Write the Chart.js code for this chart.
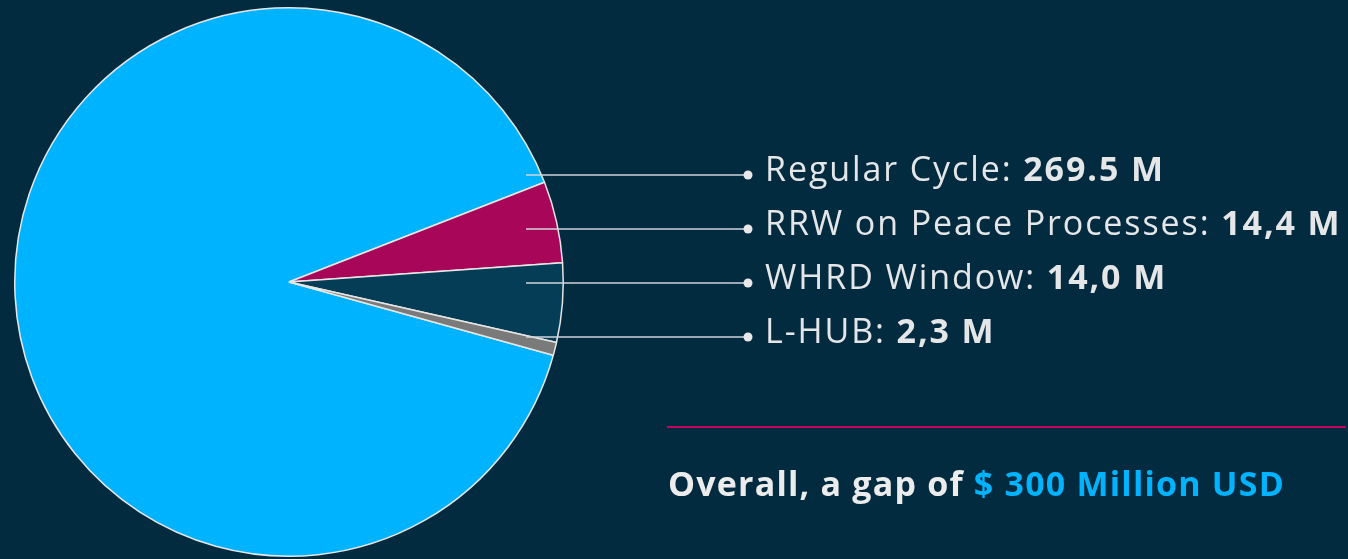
<!DOCTYPE html>
<html lang="en">
<head>
  <meta charset="UTF-8">
  <title>Funding gap</title>
  <script src="https://cdn.jsdelivr.net/npm/chart.js"></script>
  <style>
    html, body { margin: 0; padding: 0; background: #032b40; }
    #wrap { width: 1348px; height: 559px; position: relative; }
  </style>
</head>
<body>
  <div id="wrap"><canvas id="pie"></canvas></div>
  <script>
    // data
    const categories = ['Regular Cycle', 'RRW on Peace Processes', 'WHRD Window', 'L-HUB'];
    const amounts = [269.5, 14.4, 14.0, 2.3];
    const amountLabels = ['269.5 M', '14,4 M', '14,0 M', '2,3 M'];
    const sliceColors = ['#00b3ff', '#a80759', '#053d57', '#7a7a7a'];
    const summaryLead = 'Overall, a gap of ';
    const summaryValue = '$ 300 Million USD';

    const FONT = '"Open Sans", sans-serif';

    // leader lines, labels, divider and summary line on the right
    const sideText = {
      id: 'sideText',
      afterDraw(chart) {
        const ctx = chart.ctx;
        ctx.save();
        categories.forEach((name, i) => {
          const y = 175 + i * 54;
          ctx.strokeStyle = '#d0d4d8';
          ctx.lineWidth = 1.5;
          ctx.beginPath();
          ctx.moveTo(526, y);
          ctx.lineTo(748, y);
          ctx.stroke();
          ctx.fillStyle = '#e8e8e8';
          ctx.beginPath();
          ctx.arc(748, y, 4.5, 0, Math.PI * 2);
          ctx.fill();

          ctx.textBaseline = 'alphabetic';
          ctx.letterSpacing = '1.9px';
          ctx.fillStyle = '#e4e6e8';
          ctx.font = '400 34px ' + FONT;
          const lead = name + ': ';
          ctx.fillText(lead, 765, y + 6);
          const w = ctx.measureText(lead).width;
          ctx.font = '700 34px ' + FONT;
          ctx.fillText(amountLabels[i], 765 + w, y + 6);
        });

        ctx.strokeStyle = '#c8005e';
        ctx.lineWidth = 2;
        ctx.beginPath();
        ctx.moveTo(667, 427);
        ctx.lineTo(1346, 427);
        ctx.stroke();

        ctx.letterSpacing = '1.2px';
        ctx.font = '700 34px ' + FONT;
        ctx.fillStyle = '#ececec';
        ctx.fillText(summaryLead, 668, 496);
        const lw = ctx.measureText(summaryLead).width;
        ctx.fillStyle = '#00b3ff';
        ctx.fillText(summaryValue, 668 + lw, 496);
        ctx.restore();
      }
    };

    new Chart(document.getElementById('pie'), {
      type: 'pie',
      data: {
        labels: categories,
        datasets: [{
          data: amounts,
          backgroundColor: sliceColors,
          borderColor: '#e6e6e6',
          borderWidth: 1.5,
          hoverOffset: 0
        }]
      },
      options: {
        responsive: true,
        maintainAspectRatio: false,
        animation: false,
        rotation: 105.5,
        layout: { padding: { left: 14, top: 7, right: 784, bottom: 2 } },
        plugins: {
          legend: { display: false },
          tooltip: { enabled: false }
        },
        events: []
      },
      plugins: [sideText]
    });
  </script>
</body>
</html>
